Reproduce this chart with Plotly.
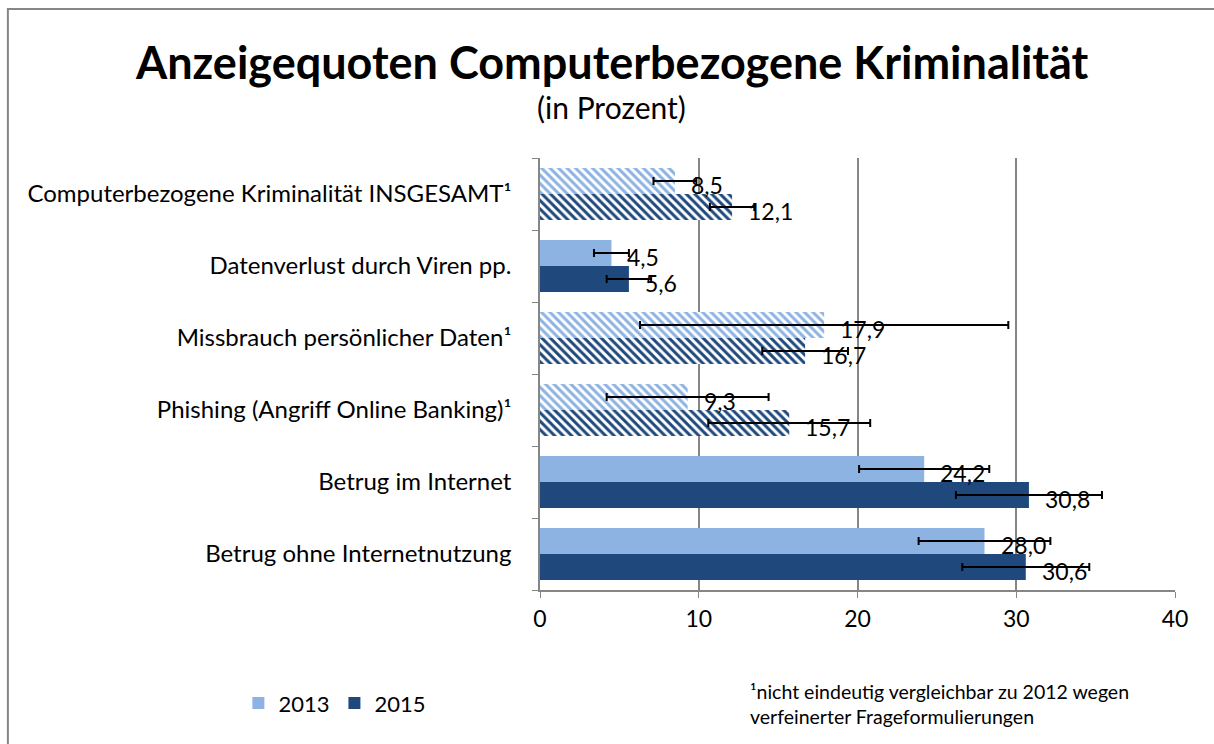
import plotly.graph_objects as go

# Data (top-to-bottom as shown in the chart)
categories = [
    "Computerbezogene Kriminalität INSGESAMT¹",
    "Datenverlust durch Viren pp.",
    "Missbrauch persönlicher Daten¹",
    "Phishing (Angriff Online Banking)¹",
    "Betrug im Internet",
    "Betrug ohne Internetnutzung",
]
values_2013 = [8.5, 4.5, 17.9, 9.3, 24.2, 28.0]
values_2015 = [12.1, 5.6, 16.7, 15.7, 30.8, 30.6]
err_2013 = [1.35, 1.1, 11.6, 5.1, 4.1, 4.15]
err_2015 = [1.4, 1.4, 2.7, 5.1, 4.6, 4.0]
hatched = [True, False, True, True, False, False]
tick_values = [0, 10, 20, 30, 40]

col_2013 = "#8DB3E2"
col_2015 = "#1F497D"
FONT = "Lato"

# plot bottom-to-top so the first data point is a solid bar (legend symbol)
cats = categories[::-1]
v13 = values_2013[::-1]
v15 = values_2015[::-1]
e13 = err_2013[::-1]
e15 = err_2015[::-1]
hat = hatched[::-1]
shapes_pat = ["\\" if h else "" for h in hat]

def fmt(v):
    return f"{v:.1f}".replace(".", ",")

fig = go.Figure()
for name, vals, errs, col in [("2015", v15, e15, col_2015), ("2013", v13, e13, col_2013)]:
    fig.add_trace(go.Bar(
        y=cats, x=vals, orientation="h", name=name,
        marker=dict(color=col, line=dict(width=0),
                    pattern=dict(shape=shapes_pat, fgcolor=col, bgcolor="white",
                                 size=6, solidity=0.5, fillmode="replace")),
        error_x=dict(type="data", array=errs, color="black", thickness=2, width=4),
    ))

annotations = []
for vals, ysh in [(v13, 9), (v15, -17)]:
    for c, v in zip(cats, vals):
        annotations.append(dict(x=v, y=c, text=fmt(v), showarrow=False,
                                xanchor="left", yanchor="middle", xshift=14, yshift=ysh,
                                font=dict(size=23, color="black", family=FONT)))

annotations += [
    dict(x=0.113, y=1.222, xref="paper", yref="paper", showarrow=False,
         text="<b>Anzeigequoten Computerbezogene Kriminalität</b>",
         font=dict(size=45, color="black", family=FONT), xanchor="center", yanchor="middle"),
    dict(x=0.113, y=1.118, xref="paper", yref="paper", showarrow=False,
         text="(in Prozent)", font=dict(size=30, color="black", family=FONT),
         xanchor="center", yanchor="middle"),
    dict(x=0.3276, y=-0.203, xref="paper", yref="paper", showarrow=False, align="left",
         text="¹nicht eindeutig vergleichbar zu 2012 wegen<br>verfeinerter Frageformulierungen",
         font=dict(size=19.5, color="black", family=FONT), xanchor="left", yanchor="top"),
]

fig.update_layout(
    width=1214, height=744,
    margin=dict(l=540, r=39, t=158, b=154),
    paper_bgcolor="white", plot_bgcolor="white",
    barmode="group", bargap=0.28, bargroupgap=0,
    font=dict(family=FONT, size=20, color="black"),
    showlegend=True,
    legend=dict(orientation="h", x=-0.475, y=-0.262, xanchor="left", yanchor="middle",
                traceorder="reversed", font=dict(size=22, family=FONT),
                itemwidth=30, bgcolor="rgba(0,0,0,0)"),
    annotations=annotations,
    shapes=[dict(type="rect", xref="paper", yref="paper", x0=-0.838, x1=1.08,
                 y0=-0.40, y1=1.345, line=dict(color="#868686", width=2),
                 fillcolor="rgba(0,0,0,0)", layer="below")],
)
fig.update_xaxes(range=[0, 40], tickvals=tick_values, showgrid=True, gridcolor="#868686",
                 gridwidth=1.5, showline=True, linecolor="#868686", linewidth=1.5,
                 ticks="outside", ticklen=6, tickcolor="#868686", zeroline=False,
                 tickfont=dict(size=23), ticklabelstandoff=2)
fig.update_yaxes(showline=True, linecolor="#868686", linewidth=1.5, ticks="outside",
                 ticklen=6, tickcolor="#868686", tickson="boundaries", showgrid=False,
                 tickfont=dict(size=24), ticklabelstandoff=22)

fig.write_html("out.html", config={"displayModeBar": False},
               post_script="document.body.style.margin='0';")
